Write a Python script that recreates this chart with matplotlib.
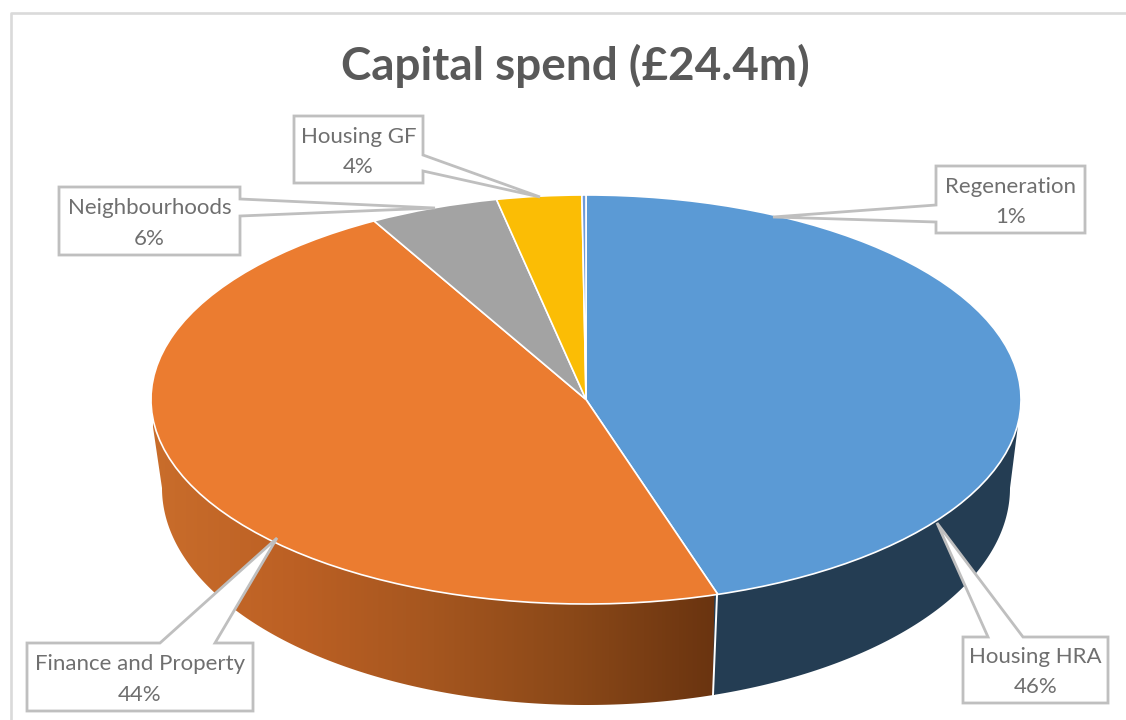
import numpy as np
import matplotlib
matplotlib.use("Agg")
from matplotlib import pyplot as plt
from matplotlib.colors import LinearSegmentedColormap
from matplotlib.patches import Polygon

W, H = 1126, 720

categories = ["Housing HRA", "Finance and Property", "Neighbourhoods", "Housing GF", "Regeneration"]
label_pcts = [46, 44, 6, 4, 1]
# slice sizes as drawn (the tilted view stretches them a bit)
drawn_shares = [45.1, 46.8, 4.8, 3.15, 0.15]
colors = ["#5B9AD5", "#EB7C30", "#A3A3A3", "#FBBD05", "#6F9BD8"]

fig = plt.figure(figsize=(W / 100, H / 100), dpi=100)
ax = fig.add_axes([0, 0, 1, 1])
ax.set_xlim(0, W)
ax.set_ylim(H, 0)
ax.axis("off")

# chart frame
ax.plot([10.5, 10.5, W], [H, 13, 13], color="#DADADA", lw=1.9, zorder=1)

ax.text(575, 66, "Capital spend (£24.4m)", ha="center", va="center", fontsize=33,
        family="Lato", fontweight="bold", color="#595959")

# wall of the pie
cx, cy, rx, ry = 586, 399.5, 435, 204.5
t = np.linspace(0, np.pi, 300)
bot_x = 586 + 424 * np.cos(t)
bot_y = 488 + 217 * np.sin(t)
wall = np.column_stack([bot_x, bot_y])
wall = np.vstack([[1018, 425], wall, [153, 427], [153, 400], [1018, 400]])

orange_cm = LinearSegmentedColormap.from_list(
    "wall", ["#C96D2B", "#BC6024", "#A5561F", "#8A4818", "#6A3410"])
grad = np.linspace(0, 1, 256).reshape(1, -1)

left_clip = Polygon(wall, transform=ax.transData, fc="none", ec="none")
ax.add_patch(left_clip)
im = ax.imshow(grad, cmap=orange_cm, extent=[153, 715, 720, 380], aspect="auto", zorder=2)
im.set_clip_path(left_clip)

right_part = Polygon(wall, fc="#243D53", ec="none", zorder=2)
ax.add_patch(right_part)
right_part.set_clip_path(Polygon([[717, 380], [1030, 380], [1030, 720], [713, 720], [713, 695]],
                                 transform=ax.transData))
ax.set_xlim(0, W)
ax.set_ylim(H, 0)
ax.plot([717, 713], [595, 695], color="white", lw=1.4, zorder=3)

# top face
top = fig.add_axes([(cx - rx) / W, 1 - (cy + ry) / H, 2 * rx / W, 2 * ry / H])
top.pie(drawn_shares, colors=colors, startangle=90, counterclock=False, radius=1,
        wedgeprops={"edgecolor": "white", "linewidth": 1.2})
top.set_aspect("auto")
top.set_xlim(-1, 1)
top.set_ylim(-1, 1)
top.patch.set_alpha(0)
top.set_zorder(3)

# callouts drawn on their own axes above the pie
over = fig.add_axes([0, 0, 1, 1])
over.set_xlim(0, W)
over.set_ylim(H, 0)
over.axis("off")
over.set_zorder(5)


def callout(x0, y0, x1, y1, tip, base, side, name, pct):
    if side == "top":
        pts = [(x0, y0), (base[0], y0), tip, (base[1], y0), (x1, y0), (x1, y1), (x0, y1)]
    elif side == "right":
        pts = [(x0, y0), (x1, y0), (x1, base[0]), tip, (x1, base[1]), (x1, y1), (x0, y1)]
    else:
        pts = [(x0, y0), (x1, y0), (x1, y1), (x0, y1), (x0, base[1]), tip, (x0, base[0])]
    over.add_patch(Polygon(pts, closed=True, fc="white", ec="#BFBFBF", lw=2.0, joinstyle="miter"))
    mid = (x0 + x1) / 2
    over.text(mid, y0 + (y1 - y0) * 0.31, name, ha="center", va="center", fontsize=16,
              family="Lato", color="#6F6F6F")
    over.text(mid, y0 + (y1 - y0) * 0.76, f"{pct}%", ha="center", va="center", fontsize=16,
              family="Lato", color="#6F6F6F")


callout(963, 637, 1108, 703, (937, 523), (988, 1023), "top", categories[0], label_pcts[0])
callout(27, 643, 253, 711, (277, 538), (160, 215), "top", categories[1], label_pcts[1])
callout(59, 187, 240, 255, (435, 208), (199, 216), "right", categories[2], label_pcts[2])
callout(294, 116, 423, 183, (540, 197), (155, 171), "right", categories[3], label_pcts[3])
callout(936, 166, 1085, 233, (773, 217), (205, 222), "left", categories[4], label_pcts[4])

fig.savefig("out.png", dpi=100)
